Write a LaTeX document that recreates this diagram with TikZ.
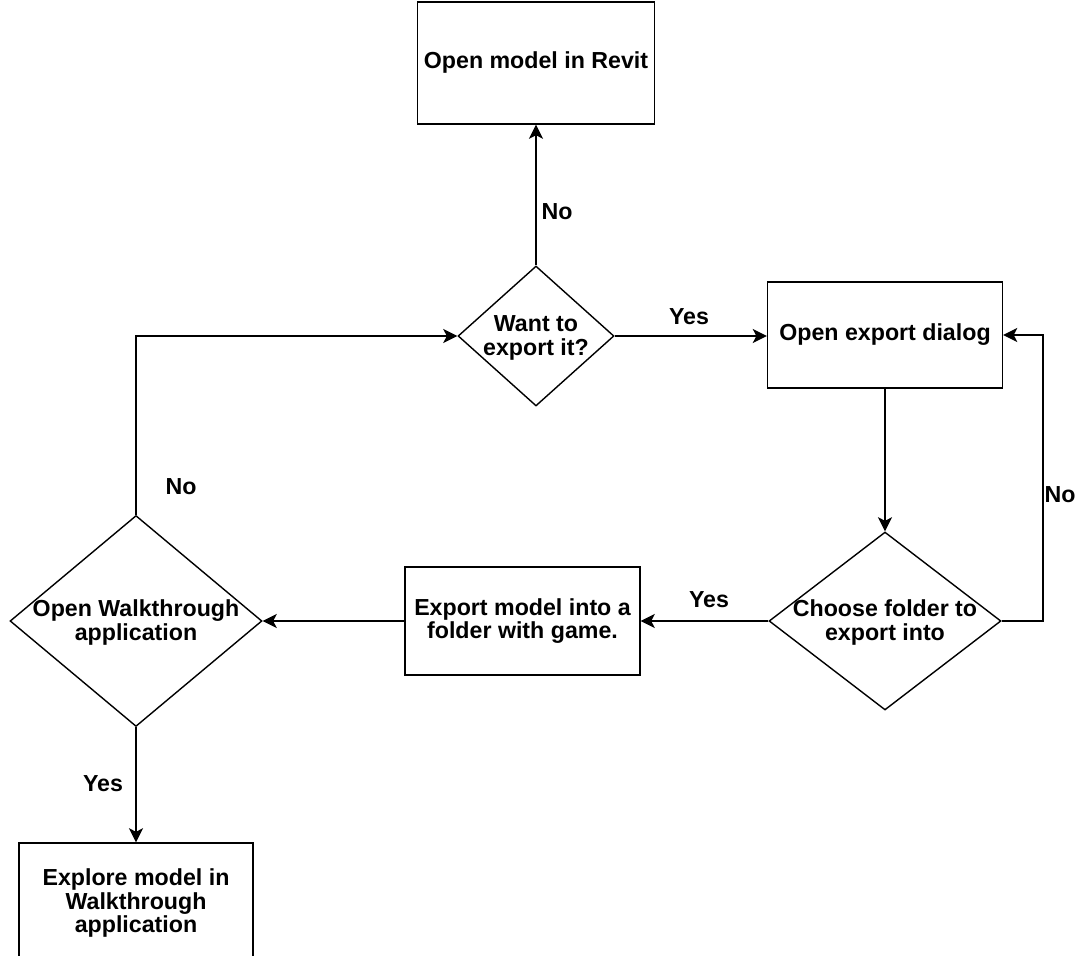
\documentclass[tikz,border=0pt]{standalone}
\usepackage{fontspec}
\setmainfont{Liberation Sans}
\usetikzlibrary{shapes.geometric,arrows.meta}

\tikzset{
  txt/.style={font=\fontsize{13.2}{13.6}\selectfont\bfseries, align=center},
  box/.style={txt, draw, line width=0.8pt, inner sep=0pt},
  choice/.style={draw, diamond, line width=0.8pt, inner sep=0pt,
    font=\fontsize{13.2}{13.6}\selectfont\bfseries},
  arr/.style={line width=0.8pt, -{Stealth[length=8pt,width=8pt,inset=2pt]}},
  lbl/.style={txt, inner sep=0pt}
}
% texto de un rombo, sin que cuente para su tamano
\newcommand{\dtext}[1]{\makebox[0pt]{\smash{\raisebox{-4.5pt}{\begin{tabular}{@{}c@{}}#1\end{tabular}}}}}

\begin{document}
\begin{tikzpicture}[x=0.02cm,y=-0.02cm]
\useasboundingbox (0,0) rectangle (1078,956);

% Cajas
\node[box, minimum width=4.74cm, minimum height=2.44cm] (revit) at (536,63) {Open model in Revit};
\node[box, minimum width=4.7cm, minimum height=2.12cm] (dialog) at (885,335) {Open export dialog};
\node[box, minimum width=4.7cm, minimum height=2.16cm] (export) at (522.5,621) {Export model into a\\folder with game.};
\node[box, minimum width=4.68cm, minimum height=2.4cm] (explore) at (136,903) {Explore model in\\Walkthrough\\application};

% Rombos
\node[choice, minimum width=3.12cm, minimum height=2.8cm] (want) at (536,336) {\dtext{Want to\\export it?}};
\node[choice, minimum width=4.64cm, minimum height=3.56cm] (choose) at (885,621) {\dtext{Choose folder to\\export into}};
\node[choice, minimum width=5.04cm, minimum height=4.22cm] (walk) at (136,621) {\dtext{Open Walkthrough\\application}};

% Flechas
\coordinate (loopR) at (1043,621);
\draw[arr] (want.north) -- (revit.south);
\draw[arr] (want.east) -- (want.east -| dialog.west);
\draw[arr] (dialog.south) -- (choose.north);
\draw[arr] (choose.east) -- (loopR) |- (dialog.east);
\draw[arr] (choose.west) -- (export.east);
\draw[arr] (export.west) -- (walk.east);
\draw[arr] (walk.north) |- (want.west);
\draw[arr] (walk.south) -- (explore.north);

% Etiquetas
\node[lbl] (noRevit) at (557,212) {No};
\node[lbl] (yesDialog) at (689,317) {Yes};
\node[lbl] (noLoop) at (1060,495) {No};
\node[lbl] (yesExport) at (709,600) {Yes};
\node[lbl] (noWalk) at (181,487) {No};
\node[lbl] (yesExplore) at (103,784) {Yes};
\end{tikzpicture}
\end{document}
